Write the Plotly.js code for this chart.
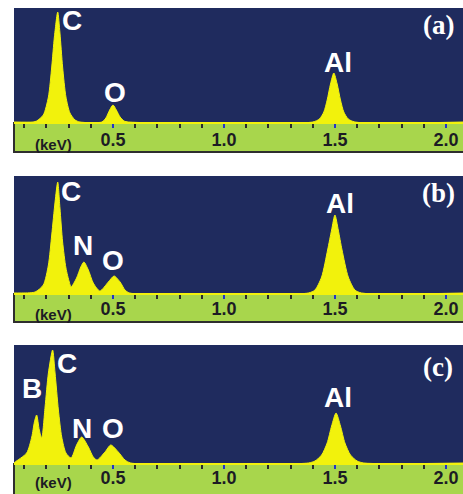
<!DOCTYPE html>
<html>
<head>
<meta charset="utf-8">
<script src="https://cdn.plot.ly/plotly-3.0.1.min.js"></script>
<style>html,body{margin:0;padding:0;background:#fff;}#chart{width:463px;height:494px;}</style>
</head>
<body>
<div id="chart"></div>
<script>
// ---- data (energy in keV, counts in arbitrary units) ----
const tickVals = [0.5, 1.0, 1.5, 2.0];
const tickText = ['0.5', '1.0', '1.5', '2.0'];
const panelNames = ['(a)', '(b)', '(c)'];

const energyA = [0.054, 0.14, 0.156, 0.186, 0.209, 0.224, 0.236, 0.251, 0.261, 0.273, 0.288, 0.306, 0.329, 0.351,
  0.45, 0.468, 0.485, 0.5, 0.515, 0.532, 0.55, 0.57,
  1.40, 1.43, 1.45, 1.465, 1.48, 1.495, 1.51, 1.525, 1.54, 1.56, 1.59, 2.08];
const countsA = [0, 0, 1, 7, 25, 55, 85, 110, 89, 55, 25, 9, 2, 0,
  0, 4, 12, 17, 12, 5, 1, 0,
  0, 3, 10, 22, 38, 49, 38, 22, 10, 3, 0, 0];

const energyB = [0.054, 0.081, 0.149, 0.186, 0.209, 0.224, 0.239, 0.251, 0.261, 0.273, 0.288, 0.303, 0.311,
  0.336, 0.355, 0.369, 0.389, 0.411, 0.441,
  0.479, 0.505, 0.532, 0.554, 0.575,
  1.38, 1.41, 1.44, 1.467, 1.485, 1.500, 1.515, 1.532, 1.56, 1.59, 1.62, 2.08];
const countsB = [0, 0, 1, 8, 28, 58, 91, 111, 85, 51, 25, 11, 6,
  15, 26, 31, 23, 10, 2,
  11, 17, 11, 3, 0,
  0, 3, 16, 43, 63, 78, 63, 43, 16, 3, 0, 0];

const energyC = [0.054, 0.059, 0.111, 0.134, 0.146, 0.156, 0.168, 0.179, 0.194, 0.209,
  0.228, 0.239, 0.254, 0.269, 0.288, 0.311,
  0.336, 0.359, 0.389, 0.411, 0.428,
  0.464, 0.490, 0.524, 0.554, 0.58,
  1.38, 1.41, 1.44, 1.465, 1.485, 1.505, 1.525, 1.545, 1.57, 1.60, 1.63, 2.08];
const countsC = [0, 1, 10, 26, 41, 48, 33, 25, 56, 90,
  113, 90, 53, 26, 10, 5,
  18, 26, 16, 6, 3,
  11, 18, 11, 3, 0,
  0, 2, 8, 20, 37, 50, 37, 20, 8, 2, 0, 0];

const elementsA = ['C', 'O', 'Al'];
const elementsB = ['C', 'N', 'O', 'Al'];
const elementsC = ['B', 'C', 'N', 'O', 'Al'];

// ---- layout geometry (pixels of the 463x494 page) ----
const W = 463, H = 494;
const panels = [
  {x: energyA, y: countsA, els: elementsA, top: 8, base: 122, stripBottom: 152, kev: 23, standoff: -4, letter: 17,
   lx: [0.315, 0.509, 1.514], ly: [102, 30, 60]},
  {x: energyB, y: countsB, els: elementsB, top: 176, base: 293, stripBottom: 322, kev: 21, standoff: -6, letter: 17,
   lx: [0.309, 0.365, 0.500, 1.523], ly: [102, 48, 33, 90]},
  {x: energyC, y: countsC, els: elementsC, top: 345, base: 463, stripBottom: 495, kev: 19, standoff: -7, letter: 22,
   lx: [0.135, 0.293, 0.360, 0.500, 1.514], ly: [75, 100, 35, 35, 66]}
];
const navy = '#1f2b5e', green = '#a8d64c', yellow = '#f2f20c';
const xRange = [0.054, 2.077];
const leftPx = 14;

const traces = [];
const layout = {
  width: W, height: H,
  margin: {l: 0, r: 0, t: 0, b: 0},
  paper_bgcolor: '#ffffff',
  plot_bgcolor: navy,
  showlegend: false,
  shapes: [], annotations: []
};

panels.forEach((p, i) => {
  const n = i === 0 ? '' : String(i + 1);
  const xa = 'xaxis' + n, ya = 'yaxis' + n;
  const xr = 'x' + n, yr = 'y' + n;
  traces.push({
    type: 'scatter', mode: 'lines', x: p.x, y: p.y, xaxis: xr, yaxis: yr,
    fill: 'tozeroy', fillcolor: yellow,
    line: {color: yellow, width: 1, shape: 'spline', smoothing: 0.7},
    hoverinfo: 'skip'
  });
  const h = p.base - p.top;
  layout[xa] = {
    domain: [leftPx / W, 1], range: xRange, anchor: yr,
    showgrid: false, zeroline: false,
    showline: true, linecolor: yellow, linewidth: 2,
    tickmode: 'array', tickvals: tickVals, ticktext: tickText,
    ticks: 'outside', ticklen: 4, tickwidth: 2, tickcolor: '#2434c8',
    ticklabelstandoff: p.standoff,
    tickfont: {family: 'Liberation Sans, Arial, sans-serif', size: 18, color: '#1c1c24', weight: 700},
    minor: {tickmode: 'linear', tick0: 0, dtick: 0.1, ticks: 'outside', ticklen: 4, tickwidth: 2, tickcolor: '#2a2a2a'}
  };
  layout[ya] = {
    domain: [1 - p.base / H, 1 - p.top / H], range: [0, h], anchor: xr,
    visible: false, showgrid: false, zeroline: false
  };
  // green energy strip below the spectrum
  layout.shapes.push({
    type: 'rect', xref: 'paper', yref: 'paper', layer: 'below',
    x0: leftPx / W, x1: 1.02, y0: 1 - p.stripBottom / H, y1: 1 - (p.base + 1) / H,
    fillcolor: green, line: {color: '#2e2e2e', width: 2}
  });
  // (keV) unit label
  layout.annotations.push({
    xref: 'paper', yref: 'paper', x: 53 / W, y: 1 - (p.base + p.kev) / H,
    text: '(keV)', showarrow: false, xanchor: 'center', yanchor: 'middle',
    font: {family: 'Liberation Sans, Arial, sans-serif', size: 15, color: '#1c1c24', weight: 700}
  });
  // panel letter
  layout.annotations.push({
    xref: 'paper', yref: 'paper', x: 438 / W, y: 1 - (p.top + p.letter) / H,
    text: panelNames[i], showarrow: false, xanchor: 'center', yanchor: 'middle',
    font: {family: 'Liberation Serif, Times New Roman, serif', size: 27, color: '#ffffff', weight: 700}
  });
  // element labels
  p.els.forEach((el, k) => {
    layout.annotations.push({
      xref: xr, yref: yr, x: p.lx[k], y: p.ly[k], text: el, showarrow: false,
      xanchor: 'center', yanchor: 'middle',
      font: {family: 'Liberation Sans, Arial, sans-serif', size: 28, color: '#ffffff', weight: 700}
    });
  });
});

Plotly.newPlot('chart', traces, layout, {staticPlot: true, displayModeBar: false});
</script>
</body>
</html>
